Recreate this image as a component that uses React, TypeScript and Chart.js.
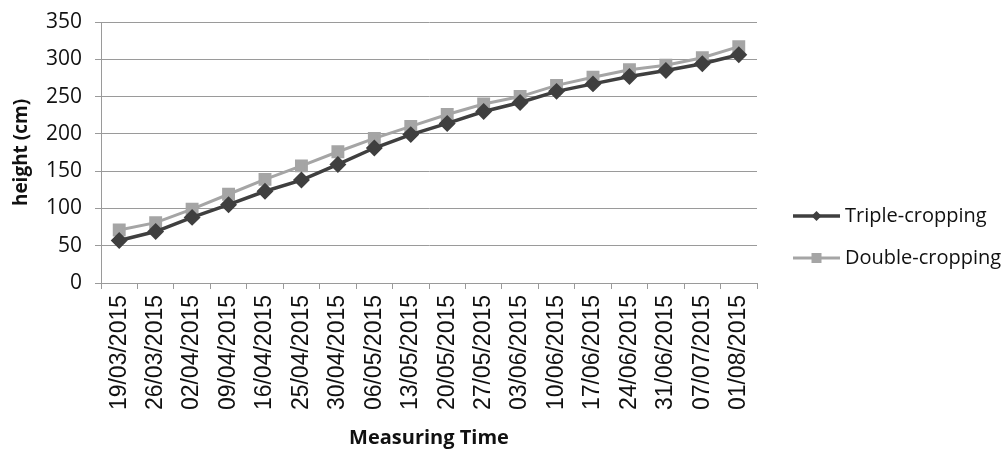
import React, { useEffect, useRef } from 'react';
import { Chart, registerables } from 'chart.js';

Chart.register(...registerables);

const categories = [
  '19/03/2015', '26/03/2015', '02/04/2015', '09/04/2015', '16/04/2015', '25/04/2015',
  '30/04/2015', '06/05/2015', '13/05/2015', '20/05/2015', '27/05/2015', '03/06/2015',
  '10/06/2015', '17/06/2015', '24/06/2015', '31/06/2015', '07/07/2015', '01/08/2015',
];
const tripleCropping = [57, 69, 88, 105, 123, 138, 159, 181, 199, 214, 230, 242, 257, 267, 277, 285, 294, 306];
const doubleCropping = [71, 81, 99, 119, 139, 157, 176, 194, 210, 226, 240, 250, 265, 276, 286, 292, 302, 317];
const seriesNames = ['Triple-cropping', 'Double-cropping'];
const yMin = 0;
const yMax = 350;
const yStep = 50;

const TRIPLE_COLOR = '#3f3f3f';
const DOUBLE_COLOR = '#a5a5a5';
const GRID_COLOR = '#9a9a9a';

const sideLegend = {
  id: 'sideLegend',
  afterDraw(chart: any) {
    const ctx = chart.ctx;
    const area = chart.chartArea;
    const x0 = area.right + 36;
    const x1 = x0 + 47;
    chart.data.datasets.forEach((ds: any, i: number) => {
      const y = area.top + 194 + i * 42;
      ctx.save();
      ctx.strokeStyle = ds.borderColor;
      ctx.lineWidth = ds.borderWidth;
      ctx.beginPath();
      ctx.moveTo(x0, y);
      ctx.lineTo(x1, y);
      ctx.stroke();
      const cx = (x0 + x1) / 2;
      ctx.fillStyle = ds.pointBackgroundColor;
      ctx.beginPath();
      if (ds.pointStyle === 'rectRot') {
        const r = 5;
        ctx.moveTo(cx, y - r);
        ctx.lineTo(cx + r, y);
        ctx.lineTo(cx, y + r);
        ctx.lineTo(cx - r, y);
        ctx.closePath();
      } else {
        const s = 5;
        ctx.rect(cx - s, y - s, 2 * s, 2 * s);
      }
      ctx.fill();
      ctx.fillStyle = '#111';
      ctx.font = '20px "Open Sans"';
      ctx.textAlign = 'left';
      ctx.textBaseline = 'middle';
      ctx.fillText(ds.label, x1 + 5, y);
      ctx.restore();
    });
  },
};

export default function App() {
  const ref = useRef<HTMLCanvasElement | null>(null);

  useEffect(() => {
    if (!ref.current) return;
    const chart = new Chart(ref.current, {
      type: 'line',
      data: {
        labels: categories,
        datasets: [
          {
            label: seriesNames[0],
            data: tripleCropping,
            borderColor: TRIPLE_COLOR,
            backgroundColor: TRIPLE_COLOR,
            pointBackgroundColor: TRIPLE_COLOR,
            pointBorderColor: TRIPLE_COLOR,
            borderWidth: 3.5,
            pointStyle: 'rectRot',
            pointRadius: 6,
            tension: 0,
            order: 1,
          },
          {
            label: seriesNames[1],
            data: doubleCropping,
            borderColor: DOUBLE_COLOR,
            backgroundColor: DOUBLE_COLOR,
            pointBackgroundColor: DOUBLE_COLOR,
            pointBorderColor: DOUBLE_COLOR,
            borderWidth: 3,
            pointStyle: 'rect',
            pointRadius: 7,
            tension: 0,
            order: 2,
          },
        ],
      },
      options: {
        animation: false,
        responsive: true,
        maintainAspectRatio: false,
        layout: { padding: { left: 0, top: 22, right: 250, bottom: 0 } },
        plugins: {
          legend: { display: false },
          tooltip: { enabled: false },
        },
        scales: {
          x: {
            type: 'category',
            offset: true,
            grid: {
              offset: true,
              drawOnChartArea: false,
              drawTicks: true,
              tickLength: 6,
              color: GRID_COLOR,
            },
            border: { color: GRID_COLOR, width: 1 },
            ticks: {
              autoSkip: false,
              minRotation: 90,
              maxRotation: 90,
              padding: 6,
              color: '#111',
              font: { family: '"Liberation Sans", Arial, sans-serif', size: 23 },
            },
            title: {
              display: true,
              text: 'Measuring Time',
              color: '#111',
              font: { family: '"Open Sans", sans-serif', size: 20, weight: 'bold' },
              padding: { top: 0, bottom: 4 },
            },
            afterFit: (s: any) => { s.height = 171; s.paddingLeft = 0; s.paddingRight = 0; },
          },
          y: {
            min: yMin,
            max: yMax,
            grid: {
              color: GRID_COLOR,
              drawTicks: true,
              tickLength: 6,
            },
            border: { color: GRID_COLOR, width: 1 },
            ticks: {
              stepSize: yStep,
              padding: 13,
              color: '#111',
              font: { family: '"Open Sans", sans-serif', size: 21 },
            },
            title: {
              display: true,
              text: 'height (cm)',
              color: '#111',
              font: { family: '"Open Sans", sans-serif', size: 19, weight: 'bold' },
              padding: { top: 10, bottom: 0 },
            },
            afterFit: (s: any) => { s.width = 101; s.paddingTop = 0; s.paddingBottom = 0; },
          },
        },
      },
      plugins: [sideLegend],
    });
    return () => chart.destroy();
  }, []);

  return (
    <div style={{ position: 'absolute', left: 0, top: 0, width: 1007, height: 454, background: '#fff' }}>
      <canvas ref={ref} />
    </div>
  );
}
